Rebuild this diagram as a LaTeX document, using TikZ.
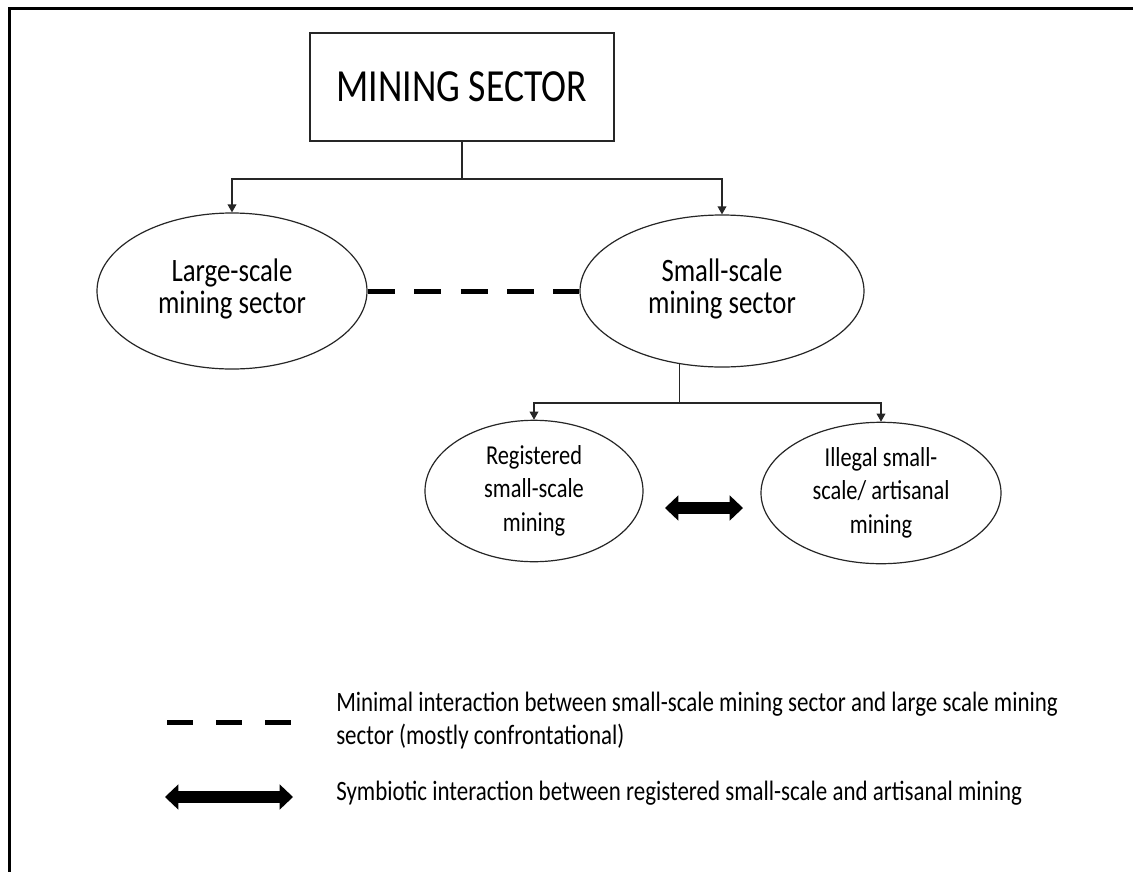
\documentclass[tikz,border=0pt]{standalone}
\usepackage{fontspec}
\setmainfont{Carlito}[FakeStretch=0.82]
\usetikzlibrary{arrows.meta,shapes.geometric}
\newcommand\ovaltext[2]{\raisebox{#1}{\begin{tabular}{@{}c@{}}#2\end{tabular}}}
\begin{document}
\begin{tikzpicture}[x=0.75pt,y=-0.75pt,
  conn/.style={line width=1pt,draw=black!85},
  arr/.style={conn,-{Triangle[length=6pt,width=6.5pt]}},
  oval/.style={ellipse,draw=black!85,line width=0.9pt,inner sep=0pt,align=center},
  bigtxt/.style={font=\fontsize{24.5pt}{23pt}\selectfont},
  smtxt/.style={font=\fontsize{20.5pt}{25pt}\selectfont},
  dashline/.style={line width=3.75pt,dash pattern=on 20.25pt off 14.6pt},
  dashleg/.style={line width=3.75pt,dash pattern=on 19.5pt off 17.25pt},
  fatarrow/.style={line width=8.5pt,{Triangle[length=10pt,width=19pt,line width=0pt]}-{Triangle[length=10pt,width=19pt,line width=0pt]}},
  legtxt/.style={anchor=west,align=left,inner sep=0pt,font=\fontsize{21pt}{24.75pt}\selectfont}
]
\useasboundingbox (0,0) rectangle (1133,872);
\fill[white] (0,0) rectangle (1133,872);
% outer frame (only top and left edges visible)
\draw[line width=2.25pt] (9.5,872) -- (9.5,8) -- (1133,8);

\node[draw=black!85,line width=1pt,minimum width=228pt,minimum height=81pt,inner sep=0pt,
      font=\fontsize{34.5pt}{40pt}\selectfont] (ms) at (462,87) {MINING SECTOR};

\node[oval,bigtxt,minimum width=202.5pt,minimum height=117pt] (large) at (232,291) {\ovaltext{-2pt}{Large-scale\\mining sector}};
\node[oval,bigtxt,minimum width=213pt,minimum height=114pt] (small) at (722,291) {\ovaltext{-1pt}{Small-scale\\mining sector}};
\node[oval,smtxt,minimum width=163.5pt,minimum height=75pt] (reg) at (534,491) {\ovaltext{-3pt}{Registered\\small-scale\\mining}};
\node[oval,smtxt,minimum width=180pt,minimum height=72pt] (ill) at (881,493) {\ovaltext{-2pt}{Illegal small-\\scale/ artisanal\\mining}};

\coordinate (j1) at (462,179);
\draw[conn] (ms.south) -- (j1);
\draw[arr] (j1) -| (large.north);
\draw[arr] (j1) -| (small.north);

\coordinate (j2) at (small.-120 |- 0,403);
\draw[conn] (small.-120) -- (j2);
\draw[arr] (j2) -| (reg.north);
\draw[arr] (j2) -| (ill.north);

\draw[dashline] (large.east) -- (small.west);

\coordinate (da1) at (665,508);
\coordinate (da2) at (743,508);
\draw[fatarrow] (da1) -- (da2);

% legend
\coordinate (l1a) at (167,722);
\coordinate (l1b) at (293,722);
\draw[dashleg] (l1a) -- (l1b);
\node[legtxt] (t1) at (336,721) {Minimal interaction between small-scale mining sector and large scale mining\\sector (mostly confrontational)};

\coordinate (l2a) at (165,797);
\coordinate (l2b) at (293,797);
\draw[fatarrow] (l2a) -- (l2b);
\node[legtxt] (t2) at (336,793) {Symbiotic interaction between registered small-scale and artisanal mining};
\end{tikzpicture}
\end{document}
